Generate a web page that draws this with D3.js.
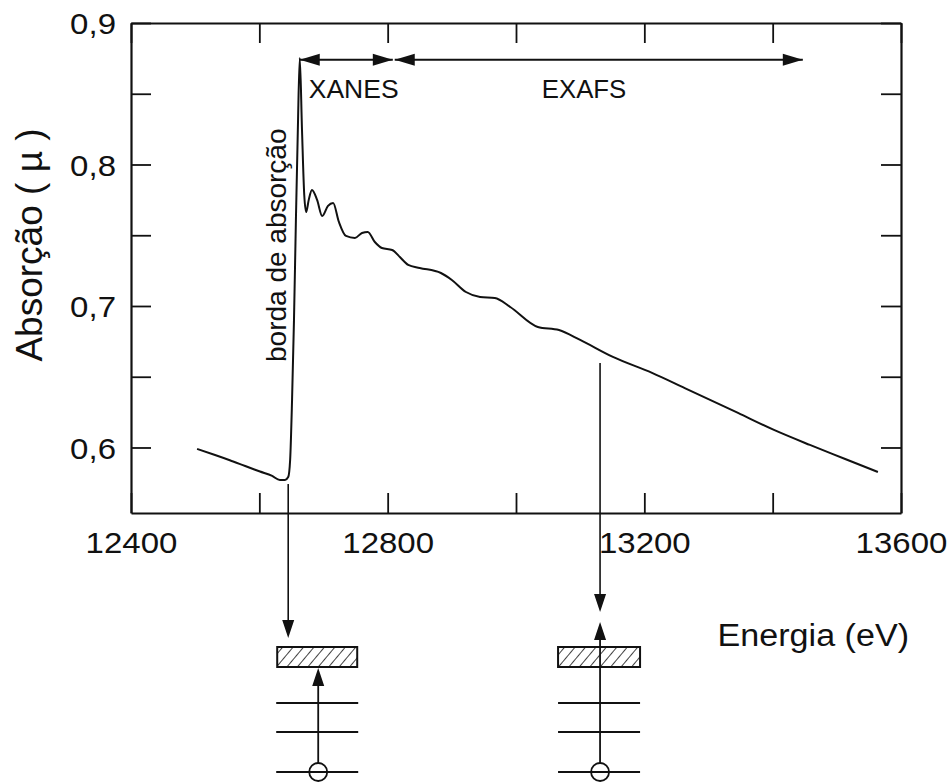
<!DOCTYPE html>
<html>
<head>
<meta charset="utf-8">
<script src="https://cdn.jsdelivr.net/npm/d3@7/dist/d3.min.js"></script>
<style>
  html, body { margin: 0; padding: 0; background: #fff; }
  svg { display: block; }
  text { font-family: "Liberation Sans", Arial, Helvetica, sans-serif; fill: #111; }
</style>
</head>
<body>
<svg id="chart" width="950" height="783"></svg>
<script>
// ---- data ----
const energy = [12503, 12531, 12554, 12578, 12601, 12620, 12632, 12640, 12645,
  12648, 12651, 12654, 12657, 12660, 12663, 12666.5, 12670, 12673, 12677, 12682,
  12690, 12698, 12707, 12715, 12724, 12735, 12749, 12760, 12769, 12780, 12791,
  12807, 12819, 12832, 12850, 12883, 12900, 12922, 12944, 12967, 12991, 13034,
  13067, 13100, 13151, 13212, 13263, 13346, 13402, 13458, 13513, 13564];
const absorb = [0.599, 0.5947, 0.591, 0.5869, 0.583, 0.5799, 0.577, 0.577, 0.5791,
  0.5912, 0.6336, 0.690, 0.7608, 0.8244, 0.8753, 0.8244, 0.7784, 0.7664, 0.775, 0.782,
  0.775, 0.7636, 0.7707, 0.7728, 0.7594, 0.7495, 0.7481, 0.7516, 0.7523, 0.7452, 0.741,
  0.7396, 0.7346, 0.729, 0.7269, 0.7233, 0.7184, 0.7099, 0.7064, 0.7057, 0.6993, 0.6852,
  0.683, 0.676, 0.664, 0.6527, 0.642, 0.6244, 0.6124, 0.6018, 0.5919, 0.5827];

const xDomain = [12400, 13600];
const yDomain = [0.5537, 0.9];
const xTickValues = [12400, 12600, 12800, 13000, 13200, 13400, 13600];
const xTickLabels = ["12400", "", "12800", "", "13200", "", "13600"];
const yTickValues = [0.6, 0.65, 0.7, 0.75, 0.8, 0.85, 0.9];
const yTickLabels = ["0,6", "", "0,7", "", "0,8", "", "0,9"];

// annotation values
const xanesRange = [12663, 12808];
const exafsRange = [12811, 13447];
const regionArrowLevel = 0.874;
const edgeArrowE = 12645;
const exafsArrowE = 13131;
const xanesLabel = "XANES";
const exafsLabel = "EXAFS";
const exafsLabelE = 13106;
const edgeLabel = "borda de absorção";
const xTitle = "Energia (eV)";
const yTitle = "Absorção ( µ )";

// ---- layout ----
const svg = d3.select("#chart");
const mL = 131, mR = 901, mT = 23, mB = 513;
const x = d3.scaleLinear().domain(xDomain).range([mL, mR]);
const y = d3.scaleLinear().domain(yDomain).range([mB, mT]);
const TICK = 20;
const INK = "#111";

function stretch(sel, f) {
  sel.each(function () {
    const w = this.getComputedTextLength();
    if (w > 0) d3.select(this).attr("textLength", w * f).attr("lengthAdjust", "spacingAndGlyphs");
  });
}

// hatch pattern
const defs = svg.append("defs");
defs.append("pattern")
  .attr("id", "hatch").attr("patternUnits", "userSpaceOnUse")
  .attr("width", 8).attr("height", 8)
  .attr("patternTransform", "rotate(40)")
  .append("line").attr("x1", 0).attr("y1", 0).attr("x2", 0).attr("y2", 8)
  .attr("stroke", INK).attr("stroke-width", 1.6);

// axes
const fmtX = (d) => xTickLabels[xTickValues.indexOf(d)];
const fmtY = (d) => yTickLabels[yTickValues.findIndex(v => Math.abs(v - d) < 1e-9)];

const gx = svg.append("g").attr("transform", `translate(0,${mB})`)
  .call(d3.axisBottom(x).tickValues(xTickValues).tickFormat(fmtX).tickSizeInner(-TICK).tickSizeOuter(0));
const gxTop = svg.append("g").attr("transform", `translate(0,${mT})`)
  .call(d3.axisTop(x).tickValues(xTickValues).tickFormat("").tickSizeInner(-TICK).tickSizeOuter(0));
const gy = svg.append("g").attr("transform", `translate(${mL},0)`)
  .call(d3.axisLeft(y).tickValues(yTickValues).tickFormat(fmtY).tickSizeInner(-TICK).tickSizeOuter(0));
const gyR = svg.append("g").attr("transform", `translate(${mR},0)`)
  .call(d3.axisRight(y).tickValues(yTickValues).tickFormat("").tickSizeInner(-TICK).tickSizeOuter(0));

[gx, gxTop, gy, gyR].forEach(g => {
  g.select(".domain").attr("stroke", INK).attr("stroke-width", 2.2);
  g.selectAll(".tick line").attr("stroke", INK).attr("stroke-width", 1.8);
});
gx.selectAll("text").attr("y", 40).attr("dy", 0).attr("font-size", 30).attr("fill", INK)
  .style("font-family", "'Liberation Sans', Arial, sans-serif");
gy.selectAll("text").attr("x", -15).attr("dy", "0.36em").attr("font-size", 30).attr("fill", INK)
  .style("font-family", "'Liberation Sans', Arial, sans-serif");
stretch(gx.selectAll("text"), 1.1);
stretch(gy.selectAll("text"), 1.1);

// curve
const pts = energy.map((e, i) => [e, absorb[i]]);
svg.append("path").datum(pts)
  .attr("fill", "none").attr("stroke", INK).attr("stroke-width", 2)
  .attr("stroke-linejoin", "round")
  .attr("d", d3.line().x(d => x(d[0])).y(d => y(d[1])).curve(d3.curveMonotoneX));

// arrowhead helper
function head(g, tx, ty, dir, len = 20, hw = 6) {
  let p;
  if (dir === "left") p = [[tx, ty], [tx + len, ty - hw], [tx + len, ty + hw]];
  if (dir === "right") p = [[tx, ty], [tx - len, ty - hw], [tx - len, ty + hw]];
  if (dir === "down") p = [[tx, ty], [tx - hw, ty - len], [tx + hw, ty - len]];
  if (dir === "up") p = [[tx, ty], [tx - hw, ty + len], [tx + hw, ty + len]];
  g.append("polygon").attr("points", p.map(q => q.join(",")).join(" ")).attr("fill", INK);
}

// region arrows
const ann = svg.append("g");
const ya = y(regionArrowLevel);
[xanesRange, exafsRange].forEach(r => {
  ann.append("line").attr("x1", x(r[0])).attr("x2", x(r[1])).attr("y1", ya).attr("y2", ya)
    .attr("stroke", INK).attr("stroke-width", 2);
  head(ann, x(r[0]), ya, "left");
  head(ann, x(r[1]), ya, "right");
});
const tX = ann.append("text").attr("x", x(xanesRange[0]) + 9).attr("y", ya + 38)
  .attr("font-size", 25).text(xanesLabel);
const tE = ann.append("text").attr("x", x(exafsLabelE)).attr("y", ya + 38)
  .attr("text-anchor", "middle").attr("font-size", 25).text(exafsLabel);
stretch(tX, 1.06); stretch(tE, 1.03);

// edge label (rotated)
ann.append("text")
  .attr("transform", `translate(${x(edgeArrowE) - 2},362) rotate(-90)`)
  .attr("font-size", 28).text(edgeLabel);

// axis titles
svg.append("text").attr("transform", `translate(42,245) rotate(-90)`)
  .attr("text-anchor", "middle").attr("font-size", 37).text(yTitle);
const xt = svg.append("text").attr("x", 909).attr("y", 646)
  .attr("text-anchor", "end").attr("font-size", 31).text(xTitle);
stretch(xt, 1.1);

// bottom energy-level diagrams
const dg = svg.append("g");
const boxTop = 647, boxH = 20, levels = [703, 732, 772], circR = 9;
// left: absorption edge transition
const xl = x(edgeArrowE);
dg.append("line").attr("x1", xl).attr("x2", xl).attr("y1", y(d3.min(absorb)) + 4).attr("y2", 625)
  .attr("stroke", INK).attr("stroke-width", 1.6);
head(dg, xl, 638, "down", 18, 6);
const lc = xl + 30; // transition column
dg.append("rect").attr("x", lc - 41).attr("y", boxTop).attr("width", 80).attr("height", boxH)
  .attr("fill", "url(#hatch)").attr("stroke", INK).attr("stroke-width", 2);
levels.forEach(ly => dg.append("line").attr("x1", lc - 42).attr("x2", lc + 40)
  .attr("y1", ly).attr("y2", ly).attr("stroke", INK).attr("stroke-width", 2));
dg.append("line").attr("x1", lc).attr("x2", lc).attr("y1", levels[2] - circR).attr("y2", boxTop + boxH + 10)
  .attr("stroke", INK).attr("stroke-width", 1.8);
head(dg, lc, boxTop + boxH + 1, "up", 18, 6);
dg.append("circle").attr("cx", lc).attr("cy", levels[2]).attr("r", circR)
  .attr("fill", "none").attr("stroke", INK).attr("stroke-width", 1.8);

// right: EXAFS (photoelectron into continuum)
const xr = x(exafsArrowE);
dg.append("line").attr("x1", xr).attr("x2", xr).attr("y1", y(d3.min(absorb)) - 117).attr("y2", 600)
  .attr("stroke", INK).attr("stroke-width", 1.6);
head(dg, xr, 612, "down", 18, 6);
dg.append("rect").attr("x", xr - 42).attr("y", boxTop).attr("width", 82).attr("height", boxH)
  .attr("fill", "url(#hatch)").attr("stroke", INK).attr("stroke-width", 2);
levels.forEach(ly => dg.append("line").attr("x1", xr - 42).attr("x2", xr + 40)
  .attr("y1", ly).attr("y2", ly).attr("stroke", INK).attr("stroke-width", 2));
dg.append("line").attr("x1", xr).attr("x2", xr).attr("y1", levels[2] - circR).attr("y2", 635)
  .attr("stroke", INK).attr("stroke-width", 1.8);
head(dg, xr, 622, "up", 18, 6);
dg.append("circle").attr("cx", xr).attr("cy", levels[2]).attr("r", circR)
  .attr("fill", "none").attr("stroke", INK).attr("stroke-width", 1.8);
</script>
</body>
</html>
